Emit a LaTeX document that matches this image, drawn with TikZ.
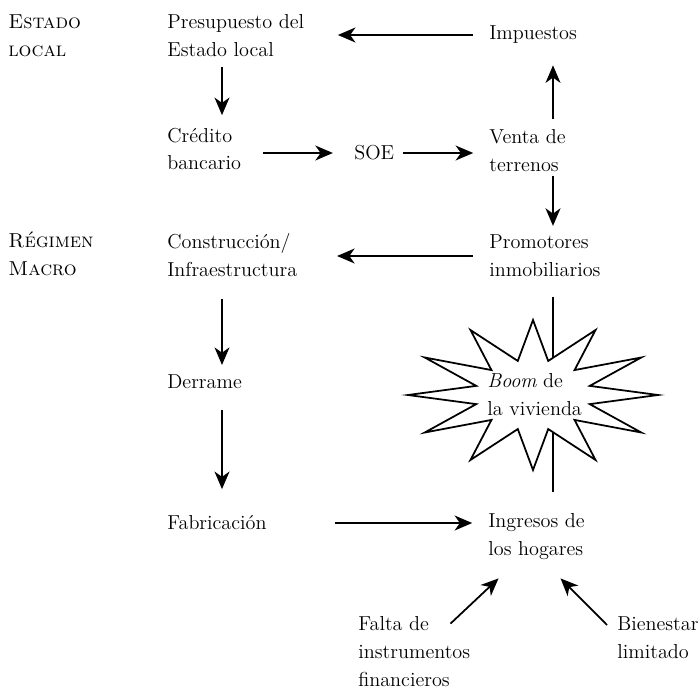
\documentclass[tikz,border=0pt]{standalone}
\usepackage{tikz}
\usetikzlibrary{arrows.meta}
\tikzset{
  txt/.style={anchor=west, align=left, inner sep=0pt, font=\fontsize{11.5}{15.9}\selectfont},
  arr/.style={line width=1pt, -{Stealth[length=10pt,width=8.5pt,inset=3pt]}},
}
\begin{document}
\begin{tikzpicture}[x=0.02cm, y=-0.02cm]
            \useasboundingbox (0,0) rectangle (699,689);
            \coordinate (colA) at (222,0);% left arrow column
            \coordinate (colB) at (553,0);% right arrow column
            \coordinate (boomc) at (533,395);% centre of the star

            \node[txt] (estado)       at (8,36)    {\textsc{Estado}\\\textsc{local}};
            \node[txt] (regimen)      at (8,254)   {\textsc{Régimen}\\\textsc{Macro}};

            \node[txt] (presupuesto)  at (167,36)  {Presupuesto del\\Estado local};
            \node[txt] (credito)      at (167,149) {Crédito\\bancario};
            \node[txt] (soe)          at (354,153) {SOE};
            \node[txt] (impuestos)    at (489,35)  {Impuestos};
            \node[txt] (venta)        at (489,151) {Venta de\\terrenos};
            \node[txt] (construccion) at (167,255) {Construcción/\\Infraestructura};
            \node[txt] (promotores)   at (489,256) {Promotores\\inmobiliarios};
            \node[txt] (derrame)      at (167,382) {Derrame};
            \node[txt] (fabricacion)  at (167,523) {Fabricación};
            \node[txt] (ingresos)     at (488,537) {Ingresos de\\los hogares};
            \node[txt] (falta)        at (358,652) {Falta de\\instrumentos\\financieros};
            \node[txt] (bienestar)    at (617,638) {Bienestar\\limitado};

            \draw[arr, shorten <=9pt, shorten >=19pt] (impuestos.west) -- (presupuesto.east |- impuestos.west);
            \draw[arr, shorten <=5.5pt, shorten >=7pt] (presupuesto.south -| colA) -- (credito.north -| colA);
            \draw[arr, shorten <=12.5pt, shorten >=12pt] (credito.east |- soe.west) -- (soe.west);
            \draw[arr, shorten <=5pt, shorten >=9pt] (soe.east) -- (venta.west |- soe.east);
            \draw[arr, shorten <=6pt, shorten >=12pt] (venta.north -| colB) -- (impuestos.south -| colB);
            \draw[arr, shorten <=2pt, shorten >=5pt] (venta.south -| colB) -- (promotores.north -| colB);
            \draw[arr, shorten <=9pt, shorten >=22.5pt] (promotores.west) -- (construccion.east |- promotores.west);
            \draw[arr, shorten <=12.5pt, shorten >=5.5pt] (construccion.south -| colA) -- (derrame.north -| colA);
            \draw[arr, shorten <=12pt, shorten >=15pt] (derrame.south -| colA) -- (fabricacion.north -| colA);
            \draw[arr, shorten <=38.5pt, shorten >=9pt] (fabricacion.east) -- (ingresos.west |- fabricacion.east);
            \draw[arr] ([shift={(-20,7)}]falta.north east) -- ([shift={(-38,18)}]ingresos.south);
            \draw[arr] ([shift={(-10,-13)}]bienestar.west) -- ([shift={(24,18)}]ingresos.south);

            % housing boom
            \draw[line width=1pt, shorten <=11pt] (promotores.south -| colB) -- (boomc -| colB);
            \draw[line width=1pt, shorten >=12.5pt] (boomc -| colB) -- (ingresos.north -| colB);
            \draw[line width=1pt, fill=white, shift={(boomc)}] plot[samples at={0,...,23}]
                ({125*(1-0.53*mod(\x,2))*cos(90+15*\x)}, {-75*(1-0.53*mod(\x,2))*sin(90+15*\x)}) -- cycle;
            \node[txt] (boom) at (487,395) {\itshape Boom\upshape{} de\\la vivienda};
        \end{tikzpicture}
\end{document}
